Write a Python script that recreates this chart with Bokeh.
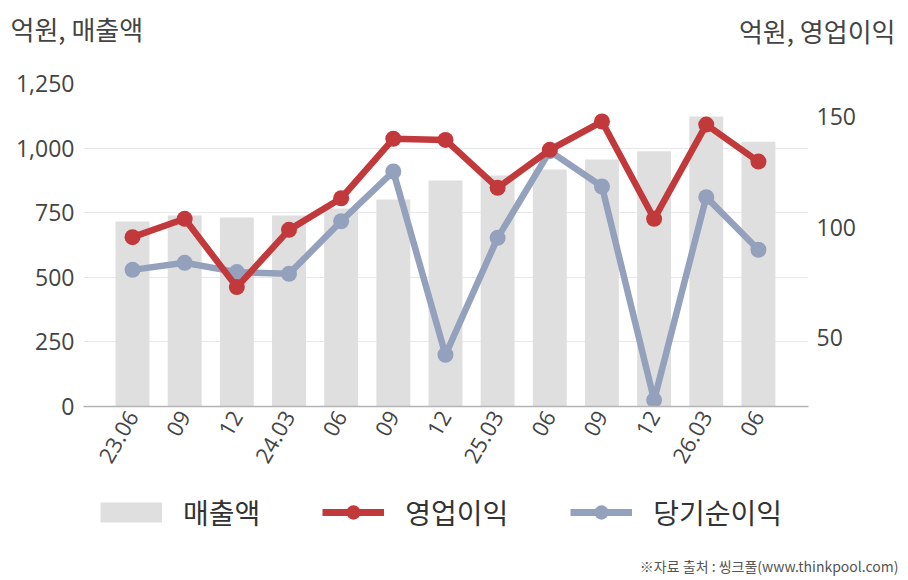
import math
from bokeh.plotting import figure
from bokeh.layouts import column
from bokeh.models import (Range1d, LinearAxis, FixedTicker, Legend, LegendItem,
                          NumeralTickFormatter, ColumnDataSource)
from bokeh.core.properties import value
from bokeh.embed import file_html
from bokeh.resources import INLINE

# ---- data ----
periods = ["23.06", "09", "12", "24.03", "06", "09", "12", "25.03", "06", "09", "12", "26.03", "06"]
revenue = [716, 739, 731, 739, 766, 801, 875, 894, 917, 956, 988, 1122, 1025]
op_income = [95.5, 103.8, 72.9, 98.8, 113.1, 140.0, 139.5, 117.8, 135.0, 147.8, 103.8, 146.4, 129.7]
net_income = [80.7, 83.9, 79.7, 78.9, 102.7, 125.2, 42.3, 95.2, 134.4, 118.4, 21.8, 113.6, 89.8]
left_ticks = [0, 250, 500, 750, 1000, 1250]
right_ticks = [50, 100, 150]
series_names = ["매출액", "영업이익", "당기순이익"]
left_title = "억원, 매출액"
right_title = "억원, 영업이익"
source_note = "※자료 출처 : 씽크풀(www.thinkpool.com)"

KFONT = "Noto Sans CJK KR"
NFONT = "Open Sans"
BAR = "#DFDFDF"
RED = "#C1393A"
BLUE = "#94A1BC"
TXT = "#444444"
W = 900


def blank(height):
    f = figure(width=W, height=height, output_backend="svg", toolbar_location=None,
               x_range=Range1d(0, W), y_range=Range1d(0, height),
               x_axis_type=None, y_axis_type=None, min_border=0)
    f.frame_align = False
    f.outline_line_color = None
    f.xgrid.visible = False
    f.ygrid.visible = False
    return f


# ---- header ----
HH = 60
header = blank(HH)
header.text(x=[10], y=[HH - 28], text=[left_title], text_font=value(KFONT),
            text_font_size="26px", text_color=TXT, text_align="left", text_baseline="middle")
header.text(x=[895], y=[HH - 30], text=[right_title], text_font=value(KFONT),
            text_font_size="26px", text_color=TXT, text_align="right", text_baseline="middle")

# ---- main chart ----
TOP = 83 - HH
BOTTOM = 75
p = figure(width=W, height=TOP + 323 + BOTTOM, output_backend="svg", toolbar_location=None,
           x_range=Range1d(-0.94, 12.96), y_range=Range1d(0, 1250),
           min_border_left=83, min_border_right=W - 808, min_border_top=TOP,
           min_border_bottom=BOTTOM)
p.outline_line_color = None
p.extra_y_ranges = {"right": Range1d(18.9, 165.0)}

xs = list(range(len(periods)))
src = ColumnDataSource(dict(x=xs, rev=revenue, op=op_income, net=net_income))

p.vbar(x="x", top="rev", width=0.65, source=src, fill_color=BAR, line_color=None)
p.line(x="x", y="net", source=src, line_color=BLUE, line_width=6.5, y_range_name="right")
p.scatter(x="x", y="net", source=src, size=16, fill_color=BLUE, line_color=None, y_range_name="right")
p.line(x="x", y="op", source=src, line_color=RED, line_width=6.5, y_range_name="right")
p.scatter(x="x", y="op", source=src, size=16, fill_color=RED, line_color=None, y_range_name="right")

xa = p.xaxis[0]
xa.ticker = FixedTicker(ticks=xs)
xa.major_label_overrides = {i: lab for i, lab in enumerate(periods)}
xa.major_label_orientation = math.pi / 3
xa.major_label_text_font = NFONT
xa.major_label_text_font_size = "22px"
xa.major_label_text_color = TXT
xa.major_tick_line_color = None
xa.minor_tick_line_color = None
xa.axis_line_color = "#B4B4B4"
xa.axis_line_width = 1.5
xa.major_label_standoff = 0

ya = p.yaxis[0]
ya.ticker = FixedTicker(ticks=left_ticks)
ya.formatter = NumeralTickFormatter(format="0,0")
ya.major_label_text_font = NFONT
ya.major_label_text_font_size = "23px"
ya.major_label_text_color = TXT
ya.major_tick_line_color = None
ya.minor_tick_line_color = None
ya.axis_line_color = None
ya.major_label_standoff = 3

ra = LinearAxis(y_range_name="right", ticker=FixedTicker(ticks=right_ticks))
ra.major_label_text_font = NFONT
ra.major_label_text_font_size = "23px"
ra.major_label_text_color = TXT
ra.major_tick_line_color = None
ra.minor_tick_line_color = None
ra.axis_line_color = None
ra.major_label_standoff = 2
p.add_layout(ra, "right")

p.xgrid.grid_line_color = None
p.ygrid.grid_line_color = "#E8E8E8"
p.ygrid.ticker = FixedTicker(ticks=left_ticks)

# ---- footer with legend and source note ----
FH = 95
footer = blank(FH)
off = [-1000]
lb = footer.line(x=off, y=off, line_color=BAR, line_width=20, line_cap="butt")
l1 = footer.line(x=off, y=off, line_color=RED, line_width=7)
s1 = footer.scatter(x=off, y=off, size=16, fill_color=RED, line_color=None)
l2 = footer.line(x=off, y=off, line_color=BLUE, line_width=7)
s2 = footer.scatter(x=off, y=off, size=16, fill_color=BLUE, line_color=None)
GH = 36
legend = Legend(items=[
    LegendItem(label=series_names[0], renderers=[lb]),
    LegendItem(label=series_names[1], renderers=[l1, s1]),
    LegendItem(label=series_names[2], renderers=[l2, s2]),
], orientation="horizontal", location=(100, FH - 33 - GH // 2))
legend.label_text_font = KFONT
legend.label_text_font_size = "28px"
legend.label_text_color = "#333333"
legend.glyph_width = 62
legend.glyph_height = GH
legend.label_standoff = 21
legend.spacing = 62
legend.label_height = 30
legend.border_line_color = None
legend.background_fill_alpha = 0
legend.padding = 0
legend.margin = 0
footer.add_layout(legend, "center")

footer.text(x=[898], y=[FH - 84], text=[source_note], text_font=value(KFONT),
            text_font_size="14px", text_color="#555555", text_align="right",
            text_baseline="middle")

layout = column(header, p, footer, spacing=0)
open("out.html", "w").write(file_html(layout, INLINE))
